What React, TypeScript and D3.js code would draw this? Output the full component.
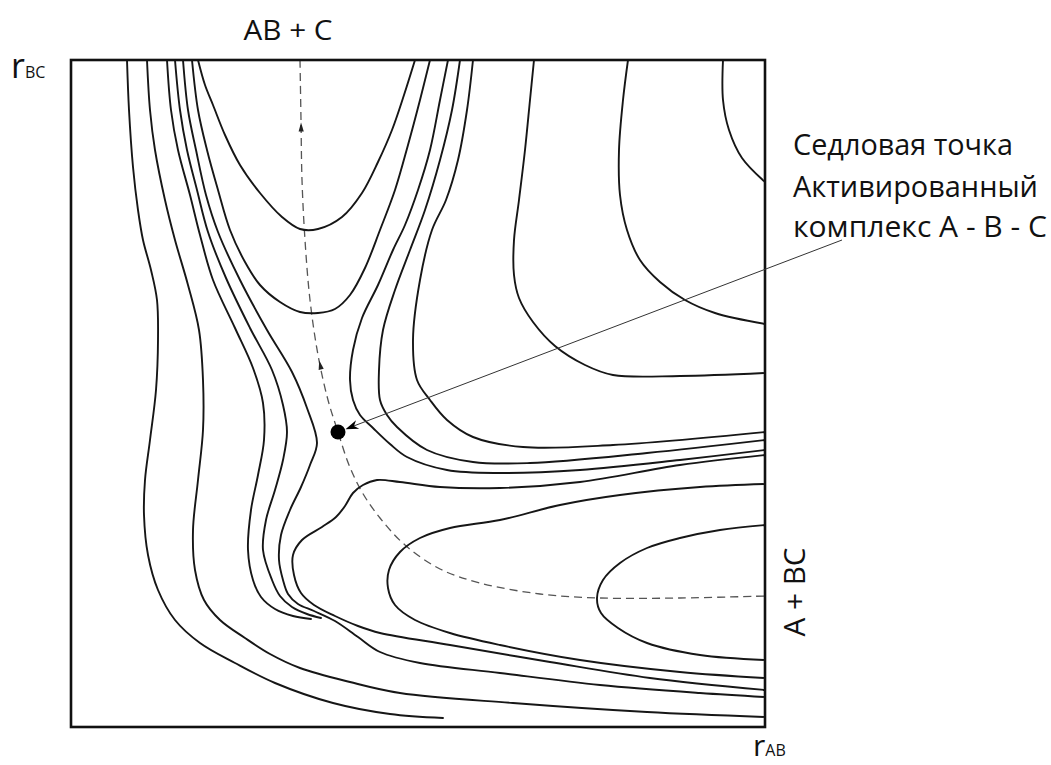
import React from 'react';
import * as d3 from 'd3';

const W = 1051;
const H = 765;

type Pt = [number, number];

// Axis extents (arbitrary distance units)
const rABDomain: [number, number] = [0, 694];
const rBCDomain: [number, number] = [0, 667];

// Contour lines of the potential-energy surface, points as [rAB, rBC]
const contourL1: Pt[] = [[56,667],[58,617],[62,560],[67,517],[72,487],[80,457],[86,427],[87,387],[85,337],[79,287],[74,247],[73,212],[77,172],[87,137],[104,107],[129,84],[164,64],[204,44],[262,24],[319,13],[372,9]];
const contourL2: Pt[] = [[76,667],[79,617],[84,577],[94,527],[104,487],[117,442],[128,397],[132,347],[132,297],[127,247],[122,197],[124,157],[133,127],[149,107],[174,89],[199,73],[229,59],[279,45],[329,34],[442,24],[576,15],[694,10]];
const contourL3: Pt[] = [[96,667],[100,617],[107,577],[119,532],[129,492],[142,447],[164,399],[182,359],[192,324],[193,287],[187,252],[180,217],[177,177],[182,147],[190,130],[204,118],[222,111],[240,108]];
const contourL4: Pt[] = [[104,667],[109,617],[116,577],[126,537],[137,495],[155,449],[179,399],[201,357],[212,322],[216,295],[212,267],[204,237],[195,207],[192,177],[201,147],[209,131],[221,120],[236,113],[250,109]];
const contourL5: Pt[] = [[112,667],[117,617],[125,577],[135,532],[147,495],[169,447],[196,397],[221,355],[236,319],[246,284],[239,262],[230,240],[219,217],[210,192],[208,167],[212,147],[217,133],[227,123],[243,116],[264,106],[287,90],[309,75],[349,64],[429,54],[529,42],[629,34],[694,30]];
const contourSaddleBelow: Pt[] = [[694,272],[609,262],[509,245],[429,239],[369,240],[329,245],[306,247],[292,242],[282,234],[274,221],[265,210],[251,200],[231,187],[222,172],[223,152],[230,134],[243,122],[264,111],[287,101],[309,94],[379,82],[479,65],[579,49],[694,37]];
const contourValleyOuter: Pt[] = [[694,243],[629,240],[549,232],[489,222],[429,207],[379,199],[349,189],[329,175],[318,157],[317,139],[324,122],[344,107],[379,94],[429,82],[509,67],[609,55],[694,49]];
const contourValleyInner: Pt[] = [[694,202],[649,197],[609,189],[576,179],[549,164],[532,147],[526,129],[530,114],[547,99],[576,84],[629,72],[694,67]];
const contourR1: Pt[] = [[377,667],[369,627],[359,577],[347,537],[334,502],[322,477],[307,442],[291,409],[282,377],[279,347],[282,327],[289,312],[302,299],[319,283],[336,270],[376,257],[429,254],[509,257],[609,267],[694,277]];
const contourR2: Pt[] = [[389,667],[381,617],[369,567],[354,517],[339,477],[324,437],[312,397],[308,357],[309,327],[316,312],[326,300],[356,277],[402,265],[459,264],[576,274],[694,287]];
const contourR3: Pt[] = [[402,667],[396,617],[387,567],[375,527],[361,497],[349,447],[342,387],[346,347],[359,327],[376,307],[402,290],[452,280],[542,282],[694,295]];
const contourU2: Pt[] = [[121,667],[127,617],[136,577],[147,537],[159,497],[174,465],[189,442],[209,425],[229,415],[247,414],[264,418],[279,432],[294,459],[309,497],[324,537],[337,582],[349,627],[359,667]];
const contourU1: Pt[] = [[127,667],[134,642],[142,622],[154,592],[169,562],[189,534],[211,510],[229,498],[247,498],[271,510],[291,534],[307,565],[321,597],[333,632],[344,667]];
const contourR4: Pt[] = [[463,667],[459,627],[454,577],[448,527],[443,487],[443,452],[448,429],[462,405],[484,381],[514,362],[542,352],[609,351],[694,354]];
const contourR5: Pt[] = [[557,667],[552,627],[548,577],[549,532],[556,497],[569,467],[589,445],[614,427],[644,414],[694,403]];
const contourR6: Pt[] = [[652,667],[652,627],[658,597],[671,569],[694,545]];

const contours: Pt[][] = [
  contourL1, contourL2, contourL3, contourL4, contourL5,
  contourSaddleBelow, contourValleyOuter, contourValleyInner,
  contourR1, contourR2, contourR3, contourU2, contourU1,
  contourR4, contourR5, contourR6,
];

// Reaction path (dashed), from AB + C down through the saddle to A + BC
const reactionPath: Pt[] = [[229,667],[230,607],[231,547],[234,487],[239,427],[247,372],[257,327],[267,295],[278,262],[291,235],[309,209],[334,182],[369,158],[409,144],[469,133],[529,129],[609,129],[694,131]];
const pathArrowsAtRBC = [600, 362];
const saddlePoint: Pt = [267, 295];

const topProductLabel = 'AB + C';
const rightProductLabel = 'A + BC';
const annotationLines = ['Седловая точка', 'Активированный', 'комплекс А - В - С'];
const annotationWidths = [220, 245, 254];

const FONT = "'Open Sans', 'Noto Sans', sans-serif";

export default function App() {
  const x = d3.scaleLinear().domain(rABDomain).range([71, 765]);
  const y = d3.scaleLinear().domain(rBCDomain).range([727, 60]);

  const line = d3
    .line<Pt>()
    .x((d) => x(d[0]))
    .y((d) => y(d[1]))
    .curve(d3.curveCatmullRom.alpha(0.5));

  // small arrowheads along the reaction path
  const arrows = pathArrowsAtRBC.map((v) => {
    for (let i = 0; i < reactionPath.length - 1; i++) {
      const a = reactionPath[i];
      const b = reactionPath[i + 1];
      if ((a[1] - v) * (b[1] - v) <= 0) {
        const t = (a[1] - v) / (a[1] - b[1] || 1);
        const px = x(a[0] + (b[0] - a[0]) * t);
        const py = y(a[1] + (b[1] - a[1]) * t);
        let dx = x(a[0]) - x(b[0]);
        let dy = y(a[1]) - y(b[1]);
        const len = Math.hypot(dx, dy) || 1;
        dx /= len;
        dy /= len;
        const L = 4.5;
        const Wd = 2.6;
        const tip = [px + dx * L, py + dy * L];
        const b1 = [px - dx * L - dy * Wd, py - dy * L + dx * Wd];
        const b2 = [px - dx * L + dy * Wd, py - dy * L - dx * Wd];
        return `M${tip[0]},${tip[1]}L${b1[0]},${b1[1]}L${b2[0]},${b2[1]}Z`;
      }
    }
    return '';
  });

  const sx = x(saddlePoint[0]);
  const sy = y(saddlePoint[1]);
  const dotR = 7.5;

  const textX = 793;
  const textBase = [155, 197, 237];
  const lineStart = [textX + 49, textBase[2] + 3];
  let ux = sx - lineStart[0];
  let uy = sy - lineStart[1];
  const ul = Math.hypot(ux, uy);
  ux /= ul;
  uy /= ul;
  const tipX = sx - ux * (dotR + 0.5);
  const tipY = sy - uy * (dotR + 0.5);
  const ahL = 13;
  const ahW = 4.5;
  const arrowHead = `M${tipX},${tipY}L${tipX - ux * ahL - uy * ahW},${tipY - uy * ahL + ux * ahW}L${tipX - ux * ahL * 0.7},${tipY - uy * ahL * 0.7}L${tipX - ux * ahL + uy * ahW},${tipY - uy * ahL - ux * ahW}Z`;

  return (
    <svg
      width={W}
      height={H}
      style={{ position: 'absolute', left: 0, top: 0, display: 'block', background: '#fff' }}
    >
      <rect x={0} y={0} width={W} height={H} fill="#fff" />
      {/* reaction path */}
      <path d={line(reactionPath) || ''} fill="none" stroke="#555" strokeWidth={1.3} strokeDasharray="8 5" />
      {arrows.map((d, i) => (
        <path key={i} d={d} fill="#222" />
      ))}
      {/* contours */}
      {contours.map((c, i) => (
        <path key={i} d={line(c) || ''} fill="none" stroke="#161616" strokeWidth={1.9} strokeLinecap="round" />
      ))}
      {/* frame */}
      <rect
        x={x(rABDomain[0])}
        y={y(rBCDomain[1])}
        width={x(rABDomain[1]) - x(rABDomain[0])}
        height={y(rBCDomain[0]) - y(rBCDomain[1])}
        fill="none"
        stroke="#111"
        strokeWidth={2.6}
      />
      {/* saddle point */}
      <circle cx={sx} cy={sy} r={dotR} fill="#000" />
      <line x1={lineStart[0]} y1={lineStart[1]} x2={tipX - ux * 8} y2={tipY - uy * 8} stroke="#333" strokeWidth={1} />
      <path d={arrowHead} fill="#000" />
      {/* labels */}
      <text x={288} y={40} textAnchor="middle" fontFamily={FONT} fontSize={28} fill="#111" textLength={89} lengthAdjust="spacingAndGlyphs">
        {topProductLabel}
      </text>
      <text
        transform="translate(805,592) rotate(-90)"
        textAnchor="middle"
        fontFamily={FONT}
        fontSize={29}
        fill="#111"
        textLength={89}
        lengthAdjust="spacingAndGlyphs"
      >
        {rightProductLabel}
      </text>
      {annotationLines.map((t, i) => (
        <text key={i} x={textX} y={textBase[i]} fontFamily={FONT} fontSize={29} fill="#111" textLength={annotationWidths[i]} lengthAdjust="spacingAndGlyphs">
          {t}
        </text>
      ))}
      <text x={11} y={78} fontFamily={FONT} fill="#111">
        <tspan fontSize={34}>r</tspan>
        <tspan fontSize={16}>BC</tspan>
      </text>
      <text x={753} y={756} fontFamily={FONT} fill="#111">
        <tspan fontSize={30}>r</tspan>
        <tspan fontSize={16}>AB</tspan>
      </text>
    </svg>
  );
}
